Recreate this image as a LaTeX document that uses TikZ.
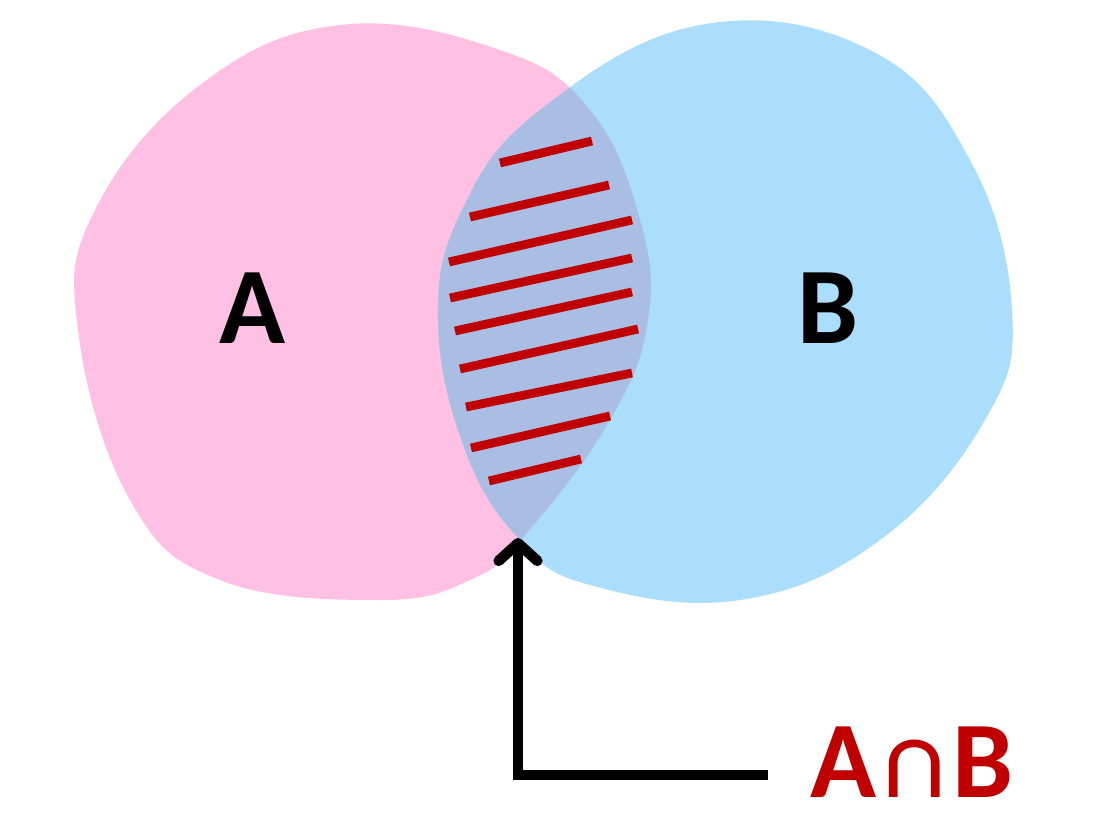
\documentclass[tikz,border=0pt]{standalone}
\usepackage{fontspec}
\setmainfont{Carlito}
\usetikzlibrary{arrows.meta}
\definecolor{pinkA}{RGB}{255,192,227}
\definecolor{blueB}{RGB}{170,222,252}
\definecolor{both}{RGB}{170,190,228}
\definecolor{hred}{RGB}{192,0,0}
\begin{document}
\begin{tikzpicture}[x=0.02cm,y=-0.02cm,
  hatch/.style={hred,line width=5pt},
  lab/.style={font=\fontsize{62}{70}\selectfont\bfseries}]
\useasboundingbox (0,0) rectangle (1118,830);
\def\blobA{plot[smooth cycle,tension=0.7] coordinates {(340,25) (500,50) (590,110) (640,220) (648,320) (610,420) (525,535) (470,580) (380,600) (220,580) (130,500) (78,330) (95,210) (200,85)}}
\def\blobB{plot[smooth cycle,tension=0.7] coordinates {(700,25) (870,50) (970,160) (1012,310) (985,420) (880,540) (740,600) (590,585) (520,540) (465,450) (438,320) (462,210) (540,110)}}
\fill[pinkA] \blobA;
\fill[blueB] \blobB;
\begin{scope}
\clip \blobA;
\fill[both] \blobB;
\end{scope}
\draw[hatch] (500,163) -- (592,141);
\draw[hatch] (470,217) -- (609,185);
\draw[hatch] (449,262) -- (632,220);
\draw[hatch] (450,298) -- (632,258);
\draw[hatch] (455,331) -- (632,292);
\draw[hatch] (460,369) -- (638,329);
\draw[hatch] (466,407) -- (632,373);
\draw[hatch] (471,448) -- (610,416);
\draw[hatch] (489,481) -- (581,459);
\node[lab] (a) at (252,308) {A};
\node[lab] (b) at (828,308) {B};
\node[lab,text=hred] (ab) at (912,762) {A∩B};
\coordinate (s) at (768,775);
\coordinate (c) at (518,775);
\coordinate (t) at (518,538);
\draw[line width=6pt,-{Straight Barb[length=10pt,width=22pt,line cap=round,line join=round]}] (s) -- (c) -- (t);
\end{tikzpicture}
\end{document}
